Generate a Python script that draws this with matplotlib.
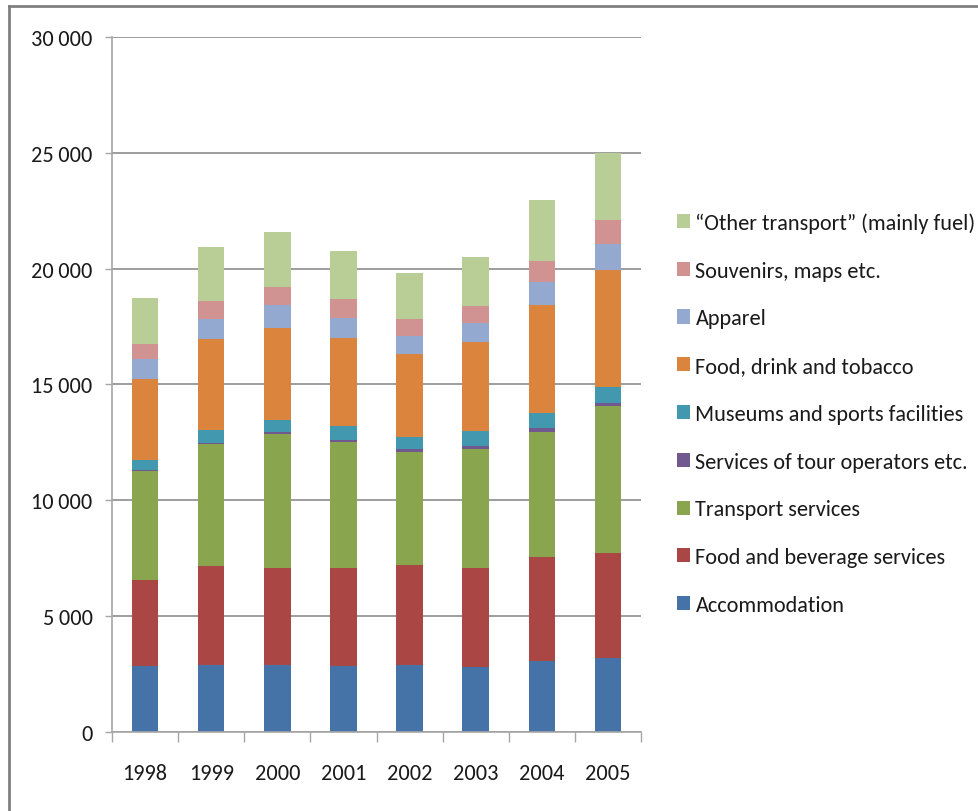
import numpy as np
import matplotlib
matplotlib.use('Agg')
import matplotlib.pyplot as plt
from matplotlib.patches import Patch
from matplotlib.lines import Line2D
from matplotlib.ticker import FixedLocator, FuncFormatter

plt.rcParams['font.family'] = ['Carlito', 'DejaVu Sans']

years = ['1998', '1999', '2000', '2001', '2002', '2003', '2004', '2005']

accommodation = [2840, 2880, 2880, 2840, 2900, 2790, 3070, 3190]
food_beverage = [3710, 4290, 4220, 4260, 4310, 4310, 4480, 4520]
transport_services = [4710, 5240, 5760, 5420, 4880, 5130, 5410, 6360]
tour_operators = [70, 60, 100, 100, 110, 120, 150, 110]
museums_sports = [420, 560, 510, 580, 550, 630, 640, 710]
food_drink_tobacco = [3480, 3930, 3980, 3810, 3580, 3860, 4690, 5040]
apparel = [850, 880, 1000, 880, 770, 830, 990, 1150]
souvenirs = [650, 770, 780, 780, 730, 720, 890, 1010]
other_transport = [1990, 2340, 2370, 2110, 1980, 2100, 2660, 2910]

series_names = ['Accommodation', 'Food and beverage services', 'Transport services',
                'Services of tour operators etc.', 'Museums and sports facilities',
                'Food, drink and tobacco', 'Apparel', 'Souvenirs, maps etc.',
                '\u201cOther transport\u201d (mainly fuel)']
series_vals = [accommodation, food_beverage, transport_services, tour_operators,
               museums_sports, food_drink_tobacco, apparel, souvenirs, other_transport]
colors = ['#4572A7', '#AA4643', '#89A54E', '#71588F', '#4198AF',
          '#DB843D', '#93A9CF', '#D19392', '#B9CD96']

fig = plt.figure(figsize=(9.79, 8.12), dpi=100)
ax = fig.add_axes([0.1144, 0.0973, 0.5404, 0.8559])

x = np.arange(len(years))
bottom = np.zeros(len(years))
for name, vals, c in zip(series_names, series_vals, colors):
    ax.bar(x, vals, width=0.4, bottom=bottom, color=c, label=name, zorder=3)
    bottom += np.array(vals)

ax.set_xlim(-0.5, len(years) - 0.5)
ax.set_ylim(0, 30000)
ax.set_yticks(np.arange(0, 30001, 5000))
ax.yaxis.set_major_formatter(FuncFormatter(
    lambda v, p: '{:,.0f}'.format(v).replace(',', '\u2009')))
ax.yaxis.grid(True, color='#8c8c8c', linewidth=1.2, zorder=0)

ax.xaxis.set_major_locator(FixedLocator(np.arange(-0.5, len(years), 1.0)))
ax.xaxis.set_minor_locator(FixedLocator(x))
ax.set_xticklabels([], minor=False)
ax.set_xticklabels(years, minor=True)
ax.tick_params(axis='x', which='major', length=7, width=1, color='#a6a6a6', direction='out')
ax.tick_params(axis='x', which='minor', length=0, pad=22, labelsize=16, labelcolor='#1a1a1a')
ax.tick_params(axis='y', length=5, width=1, color='#a6a6a6', pad=9, labelsize=16, labelcolor='#1a1a1a')

for s in ['top', 'right']:
    ax.spines[s].set_visible(False)
for s in ['left', 'bottom']:
    ax.spines[s].set_color('#a6a6a6')
    ax.spines[s].set_linewidth(1.2)
    ax.spines[s].set_zorder(4)

handles = [Patch(facecolor=c, label=n) for n, c in zip(series_names, colors)]
leg = fig.legend(handles=handles[::-1], loc='upper left', bbox_to_anchor=(0.6915, 0.7375),
                 frameon=False, fontsize=16, handlelength=0.6, handleheight=0.6,
                 handletextpad=0.23, labelspacing=1.25, borderaxespad=0, borderpad=0)
for t in leg.get_texts():
    t.set_color('#1a1a1a')

# outer frame (left and top edges only visible)
fig.add_artist(Line2D([9 / 979, 9 / 979], [0, 1 - 7 / 812], transform=fig.transFigure,
                      color='#808080', linewidth=2))
fig.add_artist(Line2D([9 / 979, 1], [1 - 7 / 812, 1 - 7 / 812], transform=fig.transFigure,
                      color='#808080', linewidth=2))

fig.savefig('out.png', dpi=100, facecolor='white')
